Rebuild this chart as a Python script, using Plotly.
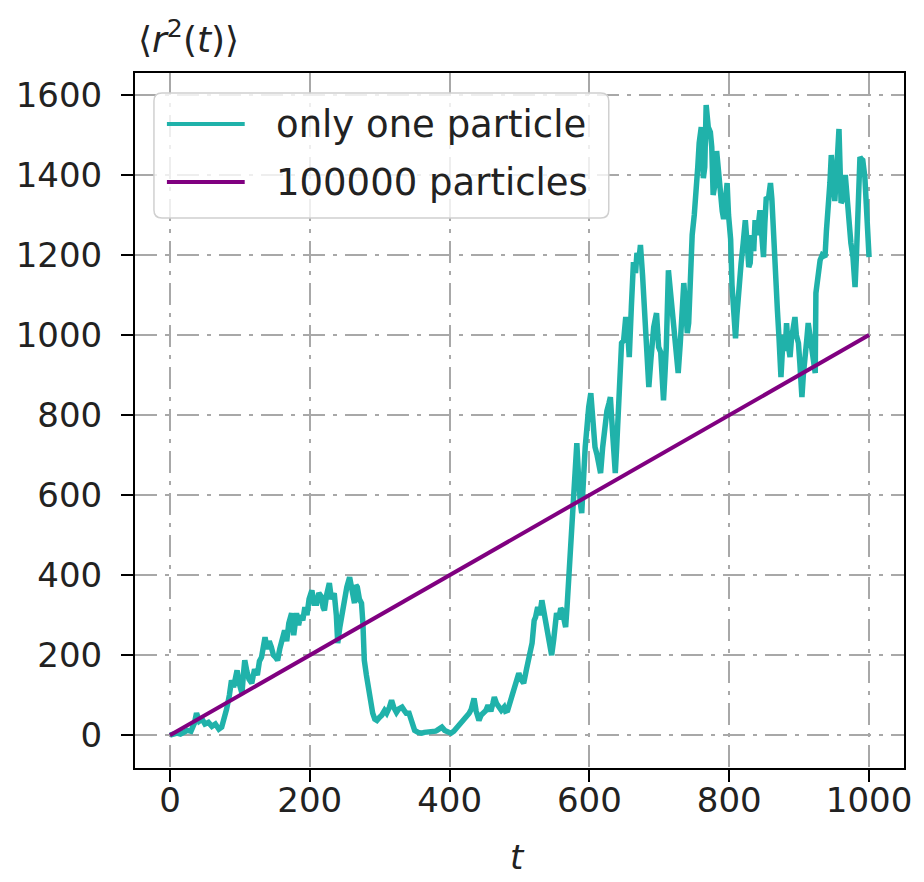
import plotly.graph_objects as go

# Time steps and mean squared displacement for a single random walker
t_one = [0, 5, 10, 15, 20, 25, 30, 35, 38, 42, 46, 50, 55, 60, 65, 70, 74, 78, 81, 85,
         88, 91, 94, 96, 99, 103, 105, 107, 110, 113, 117, 121, 125, 128, 131, 134, 136, 139, 142, 145,
         148, 151, 154, 157, 160, 164, 167, 170, 174, 177, 181, 184, 187, 190, 193, 196, 199, 203, 206, 210,
         213, 217, 219, 221, 224, 228, 231, 235, 238, 240, 243, 247, 250, 253, 257, 260, 264, 266, 268, 271,
         274, 276, 278, 281, 285, 288, 290, 293, 296, 300, 303, 307, 310, 314, 317, 320, 324, 327, 332, 335,
         338, 342, 346, 350, 355, 360, 364, 370, 375, 380, 382, 386, 389, 393, 397, 402, 406, 410, 414, 417,
         421, 425, 428, 431, 435, 438, 442, 445, 449, 452, 455, 459, 462, 464, 467, 470, 474, 478, 480, 483,
         487, 490, 492, 495, 499, 502, 506, 510, 514, 518, 521, 523, 526, 529, 532, 535, 539, 542, 546, 549,
         553, 556, 559, 561, 563, 566, 568, 571, 573, 575, 577, 578, 580, 582, 584, 585, 587, 589, 591, 592,
         594, 596, 599, 602, 605, 608, 611, 614, 616, 619, 622, 625, 628, 630, 633, 635, 637, 639, 641, 644,
         646, 649, 652, 655, 657, 660, 663, 666, 668, 671, 673, 676, 678, 681, 685, 688, 690, 692, 696, 699,
         702, 704, 706, 708, 710, 713, 716, 718, 720, 723, 725, 727, 730, 732, 735, 738, 740, 742, 745, 747,
         750, 752, 755, 757, 760, 763, 765, 767, 770, 773, 775, 777, 780, 782, 785, 787, 790, 792, 794, 797,
         799, 802, 804, 806, 809, 811, 813, 815, 817, 820, 823, 826, 828, 830, 832, 835, 837, 840, 842, 844,
         847, 849, 851, 853, 856, 859, 861, 863, 865, 867, 869, 871, 873, 874, 876, 878, 880, 882, 884, 887,
         889, 892, 894, 896, 899, 901, 903, 904, 906, 909, 911, 913, 915, 917, 920, 923, 924, 927, 930, 933,
         937, 939, 942, 944, 946, 948, 951, 954, 957, 960, 963, 966, 969, 972, 974, 977, 980, 982, 984, 987,
         989, 991, 994, 996, 998, 1000]
r2_one = [0, 2, 5, 3, 8, 12, 10, 30, 55, 35, 40, 28, 32, 22, 28, 15, 20, 40, 65, 100,
          137, 120, 150, 162, 130, 105, 150, 187, 160, 140, 130, 165, 150, 185, 195, 230, 245, 215, 235, 220,
          200, 195, 187, 215, 240, 262, 235, 280, 305, 250, 305, 275, 300, 287, 320, 300, 340, 362, 330, 330,
          355, 345, 320, 312, 350, 380, 340, 355, 300, 230, 270, 312, 340, 370, 395, 360, 330, 375, 370, 340,
          330, 280, 187, 150, 105, 75, 55, 40, 37, 45, 50, 62, 55, 70, 87, 70, 57, 65, 70, 62,
          55, 55, 35, 12, 7, 5, 7, 8, 6, 10, 12, 18, 20, 12, 8, 5, 10, 18, 25, 30,
          40, 50, 55, 65, 92, 60, 37, 50, 55, 62, 75, 60, 80, 95, 80, 70, 62, 70, 60, 62,
          85, 100, 112, 140, 155, 140, 130, 165, 195, 230, 287, 295, 320, 300, 337, 310, 275, 240, 200, 240,
          305, 290, 317, 312, 290, 270, 320, 405, 460, 512, 570, 620, 680, 730, 660, 612, 580, 555, 600, 655,
          720, 770, 820, 855, 780, 720, 700, 680, 655, 720, 780, 810, 830, 845, 760, 690, 655, 720, 800, 905,
          980, 987, 1045, 1000, 945, 1070, 1182, 1155, 1205, 1190, 1225, 1150, 1080, 970, 870, 940, 990, 1020, 1055, 970,
          957, 900, 837, 900, 970, 1162, 1100, 1080, 1040, 960, 930, 905, 980, 1030, 1130, 1060, 1005, 1030, 1232, 1250,
          1300, 1375, 1420, 1480, 1520, 1392, 1420, 1575, 1520, 1507, 1470, 1350, 1380, 1460, 1400, 1335, 1310, 1290, 1340, 1380,
          1300, 1240, 1125, 1060, 992, 1050, 1105, 1150, 1180, 1230, 1287, 1220, 1170, 1180, 1250, 1210, 1287, 1250, 1290, 1312,
          1240, 1195, 1280, 1345, 1340, 1380, 1340, 1255, 1230, 1150, 1060, 1000, 920, 895, 960, 1000, 960, 1030, 980, 945,
          990, 1037, 1045, 1000, 980, 930, 870, 845, 900, 940, 990, 1030, 1000, 970, 940, 905, 1105, 1150, 1187, 1200,
          1195, 1260, 1320, 1380, 1450, 1400, 1335, 1420, 1515, 1330, 1340, 1400, 1320, 1290, 1230, 1195, 1120, 1200, 1280, 1445,
          1440, 1437, 1395, 1300, 1250, 1195]

# Ensemble average over many particles
t_many = [0, 100, 200, 300, 400, 500, 600, 700, 800, 900, 1000]
r2_many = [0, 100, 200, 300, 400, 500, 600, 700, 800, 900, 1000]

x_ticks = [0, 200, 400, 600, 800, 1000]
y_ticks = [0, 200, 400, 600, 800, 1000, 1200, 1400, 1600]
names = ["only one particle", "100000 particles"]
colors = ["#20b2aa", "#800080"]

FONT = "DejaVu Sans"
TEXT = "#222"
W, H = 924, 882
ML, MR, MT, MB = 135, 18, 73, 114
PW, PH = W - ML - MR, H - MT - MB


def px(x):
    return (x - ML) / PW


def py(y):
    return (H - MB - y) / PH


fig = go.Figure()
fig.add_trace(go.Scatter(x=t_one, y=r2_one, mode="lines", name=names[0],
                         line=dict(color=colors[0], width=5.5), showlegend=False))
fig.add_trace(go.Scatter(x=t_many, y=r2_many, mode="lines", name=names[1],
                         line=dict(color=colors[1], width=4), showlegend=False))

grid = dict(showgrid=True, gridcolor="#a8a8a8", gridwidth=2, griddash="22px,8px,4px,8px")
axis_common = dict(showline=True, linecolor="black", linewidth=2, mirror=True,
                   ticks="outside", ticklen=12, tickwidth=2, tickcolor="black",
                   tickfont=dict(family=FONT, size=34, color=TEXT), zeroline=False, **grid)

fig.update_xaxes(range=[-50, 1050], tickvals=x_ticks, ticklabelstandoff=-11, **axis_common)
fig.update_yaxes(range=[-82, 1655], tickvals=y_ticks, ticklabelstandoff=12, **axis_common)

# Legend frame with rounded corners
lx0, lx1, ly0, ly1 = px(154), px(610), py(218), py(93)
rx, ry = 8 / PW, 8 / PH
frame = (f"M{lx0+rx},{ly1} L{lx1-rx},{ly1} Q{lx1},{ly1} {lx1},{ly1-ry} "
         f"L{lx1},{ly0+ry} Q{lx1},{ly0} {lx1-rx},{ly0} L{lx0+rx},{ly0} "
         f"Q{lx0},{ly0} {lx0},{ly0+ry} L{lx0},{ly1-ry} Q{lx0},{ly1} {lx0+rx},{ly1} Z")
shapes = [dict(type="path", path=frame, xref="paper", yref="paper",
               line=dict(color="#d0d0d0", width=1.5), fillcolor="rgba(255,255,255,0.8)", layer="above")]
annotations = []
for i, (name, col) in enumerate(zip(names, colors)):
    yy = py(124 + i * 58)
    shapes.append(dict(type="line", xref="paper", yref="paper", x0=px(167), x1=px(245), y0=yy, y1=yy,
                       line=dict(color=col, width=4), layer="above"))
    annotations.append(dict(text=name, xref="paper", yref="paper", x=px(274), y=yy,
                            xanchor="left", yanchor="middle", showarrow=False,
                            font=dict(family=FONT, size=37, color=TEXT)))

# Axis labels
annotations.append(dict(text="⟨<i>r</i><sup>2</sup>(<i>t</i>)⟩", xref="paper", yref="paper",
                        x=px(189), y=py(37), xanchor="center", yanchor="middle", showarrow=False,
                        font=dict(family=FONT, size=36, color=TEXT)))
annotations.append(dict(text="<i>t</i>", xref="paper", yref="paper", x=px(518), y=py(857),
                        xanchor="center", yanchor="middle", showarrow=False,
                        font=dict(family=FONT, size=34, color=TEXT)))

fig.update_layout(width=W, height=H, margin=dict(l=ML, r=MR, t=MT, b=MB),
                  paper_bgcolor="white", plot_bgcolor="white",
                  shapes=shapes, annotations=annotations)

fig.write_html("out.html")
